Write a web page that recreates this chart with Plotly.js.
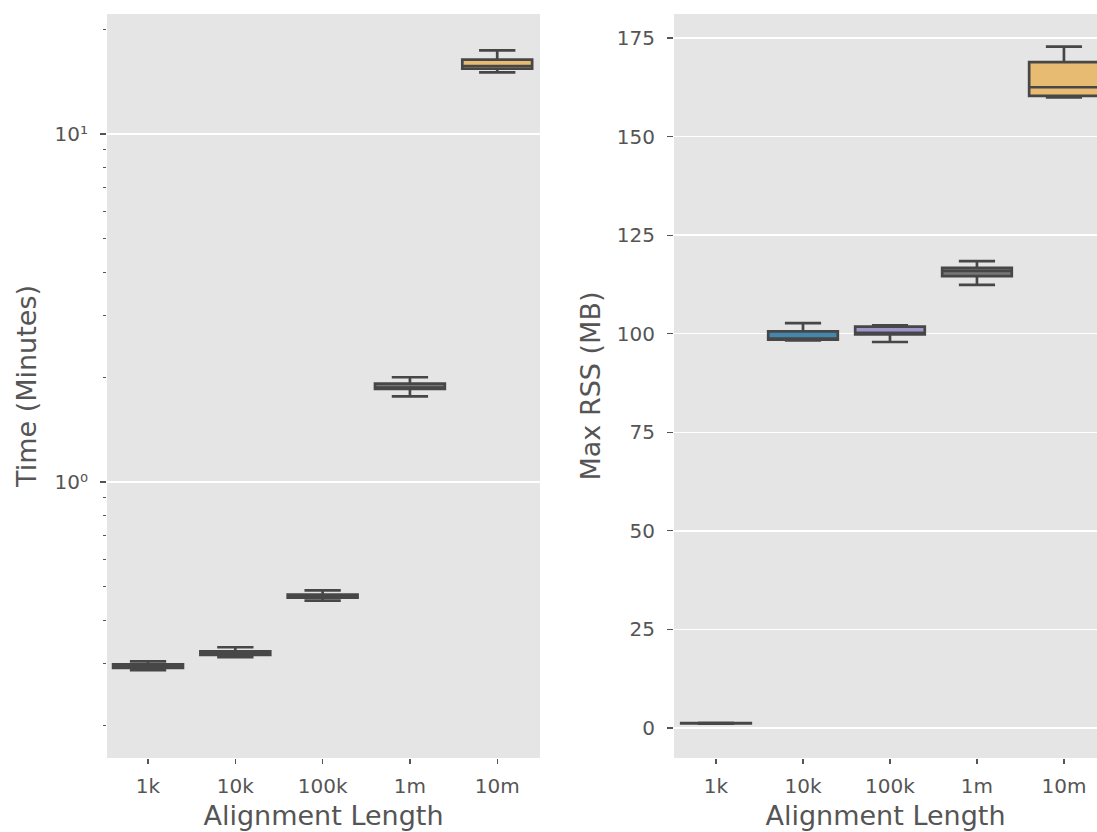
<!DOCTYPE html>
<html>
<head>
<meta charset="utf-8">
<script src="https://cdn.plot.ly/plotly-3.0.1.min.js"></script>
<style>html,body{margin:0;padding:0;background:#fff;}#chart{width:1097px;height:832px;}</style>
</head>
<body>
<div id="chart"></div>
<script>
const categories = ['1k', '10k', '100k', '1m', '10m'];
const boxColors = ['#CC5A49', '#4586AC', '#9E97CC', '#777777', '#E7BC72'];

// Time (minutes) box statistics
const timeLower  = [0.288, 0.314, 0.456, 1.763, 15.04];
const timeQ1     = [0.2921, 0.3183, 0.4651, 1.850, 15.40];
const timeMedian = [0.2950, 0.3226, 0.4703, 1.869, 15.68];
const timeQ3     = [0.2992, 0.3263, 0.4748, 1.918, 16.36];
const timeUpper  = [0.3053, 0.3351, 0.4883, 2.000, 17.40];

// Max RSS (MB) box statistics
const rssLower  = [1.1, 98.3, 97.9, 112.4, 159.9];
const rssQ1     = [1.15, 98.5, 99.8, 114.6, 160.3];
const rssMedian = [1.2, 98.7, 100.2, 115.9, 162.5];
const rssQ3     = [1.25, 100.6, 101.8, 116.7, 168.9];
const rssUpper  = [1.3, 102.7, 102.1, 118.4, 172.8];

const timeTickVals = [1, 10];
const timeTickText = ['10⁰', '10¹'];
const timeMinorVals = [0.2, 0.3, 0.4, 0.5, 0.6, 0.7, 0.8, 0.9, 2, 3, 4, 5, 6, 7, 8, 9, 20];
const rssTickVals = [0, 25, 50, 75, 100, 125, 150, 175];

const lineColor = '#474747';
const traces = [];
categories.forEach((c, i) => {
  traces.push({
    type: 'box', x: [c], xaxis: 'x', yaxis: 'y',
    q1: [timeQ1[i]], median: [timeMedian[i]], q3: [timeQ3[i]],
    lowerfence: [timeLower[i]], upperfence: [timeUpper[i]],
    fillcolor: boxColors[i], line: {color: lineColor, width: 2.7},
    width: 0.8, whiskerwidth: 0.52, boxpoints: false, hoverinfo: 'skip', showlegend: false
  });
  traces.push({
    type: 'box', x: [c], xaxis: 'x2', yaxis: 'y2',
    q1: [rssQ1[i]], median: [rssMedian[i]], q3: [rssQ3[i]],
    lowerfence: [rssLower[i]], upperfence: [rssUpper[i]],
    fillcolor: boxColors[i], line: {color: lineColor, width: 2.7},
    width: 0.8, whiskerwidth: 0.52, boxpoints: false, hoverinfo: 'skip', showlegend: false
  });
});

const tickFont = {family: 'DejaVu Sans', size: 20, color: '#555555'};
const titleFont = {family: 'DejaVu Sans', size: 27, color: '#555555'};
const W = 1097;

const layout = {
  width: 1097, height: 832,
  margin: {l: 0, r: 0, t: 14, b: 74},
  paper_bgcolor: '#ffffff', plot_bgcolor: '#E5E5E5',
  boxmode: 'overlay',
  showlegend: false,
  xaxis: {
    domain: [107 / W, 540 / W], type: 'category', categoryorder: 'array', categoryarray: categories,
    range: [-0.47, 4.49], showgrid: false, zeroline: false, showline: false,
    ticks: 'outside', ticklen: 5, tickwidth: 1.2, tickcolor: '#555555', tickfont: tickFont,
    ticklabelstandoff: 5,
    title: {text: 'Alignment Length', font: titleFont, standoff: 9}, fixedrange: true
  },
  yaxis: {
    type: 'log', range: [-0.7931, 1.3448],
    tickvals: timeTickVals, ticktext: timeTickText,
    ticks: 'outside', ticklen: 6, tickwidth: 1.2, tickcolor: '#555555', tickfont: tickFont,
    ticklabelstandoff: 8,
    minor: {tickvals: timeMinorVals, ticks: 'outside', ticklen: 3, tickwidth: 1, tickcolor: '#555555', showgrid: false},
    showgrid: true, gridcolor: '#ffffff', gridwidth: 1.5, zeroline: false, showline: false,
    title: {text: 'Time (Minutes)', font: titleFont, standoff: 10}, fixedrange: true
  },
  xaxis2: {
    domain: [674 / W, 1], type: 'category', categoryorder: 'array', categoryarray: categories,
    range: [-0.483, 4.38], showgrid: false, zeroline: false, showline: false,
    ticks: 'outside', ticklen: 5, tickwidth: 1.2, tickcolor: '#555555', tickfont: tickFont,
    ticklabelstandoff: 5,
    title: {text: 'Alignment Length', font: titleFont, standoff: 9}, anchor: 'y2', fixedrange: true
  },
  yaxis2: {
    range: [-7.61, 181.08], tickvals: rssTickVals, anchor: 'x2',
    ticks: 'outside', ticklen: 6, tickwidth: 1.2, tickcolor: '#555555', tickfont: tickFont,
    ticklabelstandoff: 8,
    showgrid: true, gridcolor: '#ffffff', gridwidth: 1.5, zeroline: false, showline: false,
    title: {text: 'Max RSS (MB)', font: titleFont, standoff: 8}, fixedrange: true
  }
};

Plotly.newPlot('chart', traces, layout, {displayModeBar: false, staticPlot: true});
</script>
</body>
</html>
